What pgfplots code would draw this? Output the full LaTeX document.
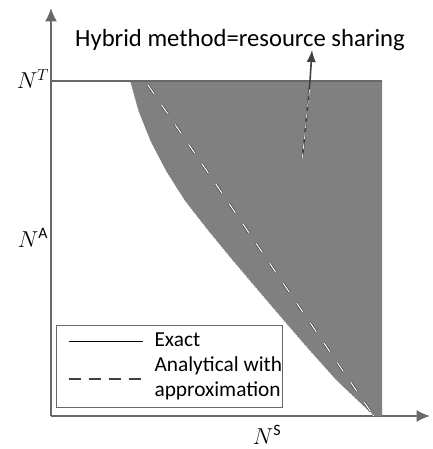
\documentclass[border=0pt]{standalone}
\usepackage{fontspec}
\setmainfont{Carlito}
\usepackage{pgfplots}
\pgfplotsset{compat=1.18}
\usetikzlibrary{arrows.meta}
\definecolor{fillgray}{HTML}{808080}
\definecolor{axgray}{HTML}{686868}
\definecolor{dkgray}{HTML}{404040}
\pgfplotstableread{
x y
79 335
87.4 305
99.4 275
115 245
134 215
157.4 185
182 155
207.5 125
233 95
259 65
286 35
323 0
}\exactcurve
\pgfplotstableread{
x y
79 335
87.4 305
99.4 275
115 245
134 215
157.4 185
182 155
207.5 125
233 95
259 65
286 35
323 0
331 0
331 335
79 335
}\region
\begin{document}
\begin{tikzpicture}
\begin{axis}[
  x=0.75pt, y=0.75pt,
  xmin=0, xmax=379, ymin=0, ymax=408,
  axis lines=left,
  axis line style={axgray, line width=1.5pt, -{Latex[length=10pt,width=9pt]}},
  xtick=\empty, ytick=\empty,
  clip=false,
  legend cell align=left,
  legend style={at={(axis cs:5,8)}, anchor=south west, draw=axgray, line width=0.8pt,
    font=\fontsize{16}{18.75}\selectfont, inner xsep=0pt, inner ysep=2.6pt,
    row sep=0pt, column sep=0pt,
    nodes={inner sep=0pt, text height=13pt, text depth=5.75pt}},
]
% shaded region
\addplot[fill=fillgray, draw=none, forget plot] table[x=x,y=y] {\region};
% exact boundary
\addplot[white, densely dotted, line width=0.6pt, smooth, forget plot] table[x=x,y=y] {\exactcurve};
% analytical dashed
\addplot[dkgray, line width=1.8pt, dash pattern=on 8pt off 10pt, forget plot] coordinates {
  (97,331) (160,239) (230,136) (322,1)};
\addplot[white, line width=0.8pt, dash pattern=on 8pt off 10pt, forget plot] coordinates {
  (97,331) (160,239) (230,136) (322,1)};
% N^T line
\addplot[axgray, line width=1pt, forget plot] coordinates {(0,335) (331,335)};
% arrow to label
\addplot[dkgray, line width=1.2pt, -{Latex[length=9pt,width=7pt]}, forget plot] coordinates {
  (251,256) (254,282) (256,304) (259,335) (261,366)};
\addplot[white, line width=0.5pt, dash pattern=on 5pt off 3pt, forget plot] coordinates {
  (251,256) (254,282) (256,304) (259,330)};
% legend
\addlegendimage{legend image code/.code={\path[draw=none,fill=none] (0pt,0pt) -- (73.5pt,0pt);
  \draw[black, line width=0.6pt, solid] (9pt,0pt) -- (64.5pt,0pt);}}
\addlegendentry{Exact}
\addlegendimage{legend image code/.code={\path[draw=none,fill=none] (0pt,0pt) -- (73.5pt,0pt);
  \draw[dkgray, line width=1.4pt, dash pattern=on 9pt off 6pt, overlay] (9pt,-9.375pt) -- (64.5pt,-9.375pt);}}
\addlegendentry{Analytical with\hspace{5pt}}
\addlegendimage{legend image code/.code={\path[draw=none,fill=none] (0pt,0pt) -- (73.5pt,0pt);}}
\addlegendentry{approximation}
% labels
\node[font=\fontsize{18.5}{22}\selectfont] at (axis cs:189,376) {Hybrid method=resource sharing};
\node[font=\fontsize{17}{20}\selectfont] at (axis cs:-18,337) {$N^{T}$};
\node[font=\fontsize{17}{20}\selectfont] at (axis cs:-18,178) {$N^{\mathrm{A}}$};
\node[font=\fontsize{17}{20}\selectfont] at (axis cs:216,-19) {$N^{\mathrm{S}}$};
\coordinate (O) at (axis cs:0,0);
\end{axis}
\pgfresetboundingbox
\path ([shift={(-38.25pt,-24.75pt)}]O) rectangle ([shift={(285.75pt,312pt)}]O);
\end{tikzpicture}
\end{document}
